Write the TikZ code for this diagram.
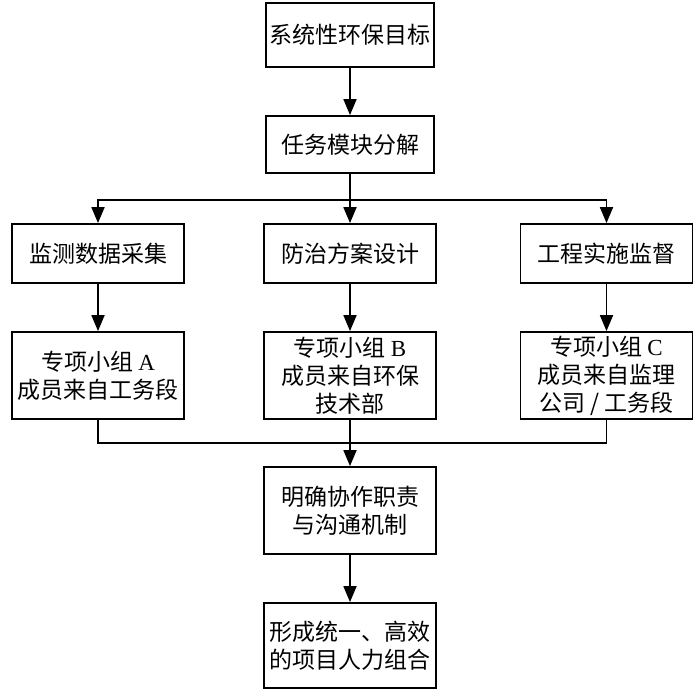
\documentclass[tikz,border=0pt]{standalone}
\usepackage{fontspec}
\setmainfont{Liberation Serif}
\newfontfamily\cjk{Noto Sans CJK SC}
\usetikzlibrary{arrows.meta,calc}
\newcommand\lat[1]{{\normalfont #1}}
\tikzset{
  box/.style={draw, line width=1.8pt, rectangle, align=center, inner sep=0pt,
    font=\cjk\fontsize{23}{28}\selectfont, minimum width=172pt},
  arr/.style={line width=1.8pt, -{Triangle[length=16pt,width=13pt]}},
  ln/.style={line width=1.8pt}
}
\begin{document}
\begin{tikzpicture}[x=1pt,y=-1pt]
\useasboundingbox (0,0) rectangle (696,690);
\node[box, minimum width=168pt, minimum height=64pt] (n1) at (350,35) {系统性环保目标};
\node[box, minimum width=168pt, minimum height=57pt] (n2) at (350,144.5) {任务模块分解};
\node[box, minimum height=59pt] (a) at (98,253.5) {监测数据采集};
\node[box, minimum height=59pt] (b) at (350,253.5) {防治方案设计};
\node[box, minimum height=59pt] (c) at (606.5,253.5) {工程实施监督};
\node[box, minimum height=87pt] (ga) at (98,375.5) {专项小组 \lat{A}\\成员来自工务段};
\node[box, minimum height=87pt] (gb) at (350,375.5) {专项小组 \lat{B}\\成员来自环保\\技术部};
\node[box, minimum height=87pt] (gc) at (606.5,375.5) {专项小组 \lat{C}\\成员来自监理\\公司 / 工务段};
\node[box, minimum height=87pt] (n5) at (350,510.5) {明确协作职责\\与沟通机制};
\node[box, minimum height=85pt] (n6) at (350,645.5) {形成统一、高效\\的项目人力组合};
\coordinate (split) at (350,200);
\coordinate (merge) at (350,443);
\draw[arr] (n1) -- (n2);
\draw[arr] (n2) -- (b);
\draw[arr] (split) -| (a.north);
\draw[arr] (split) -| (c.north);
\draw[arr] (a) -- (ga);
\draw[arr] (b) -- (gb);
\draw[arr] (c) -- (gc);
\draw[ln] (ga.south) |- (merge);
\draw[ln] (gc.south) |- (merge);
\draw[arr] (gb) -- (n5);
\draw[arr] (n5) -- (n6);
\end{tikzpicture}
\end{document}
